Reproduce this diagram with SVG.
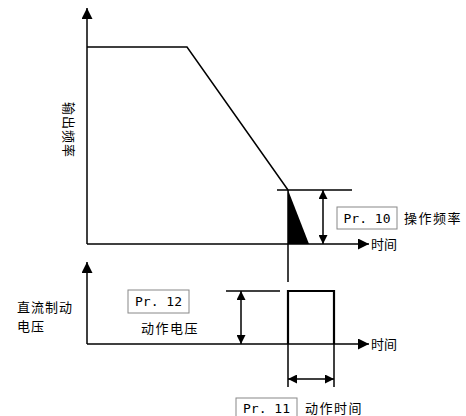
<svg xmlns="http://www.w3.org/2000/svg" width="466" height="416" viewBox="0 0 466 416">
<defs>
<style>
.ln{stroke:#000;stroke-width:1.5;fill:none}
.thk{stroke:#000;stroke-width:2.2;fill:none}
.box{fill:#fff;stroke:#888;stroke-width:1}
.t{font-family:"Noto Sans CJK SC","Noto Sans CJK JP",sans-serif;font-size:13px;fill:#000}
.m{font-family:"DejaVu Sans Mono","Liberation Mono",monospace;font-size:13px;fill:#000}
</style>
<marker id="ax" markerUnits="userSpaceOnUse" markerWidth="11" markerHeight="11" refX="10" refY="5" orient="auto" viewBox="0 0 10 10">
<path d="M0,0 L10,5 L0,10 z" fill="#000"/>
</marker>
<marker id="dm" markerUnits="userSpaceOnUse" markerWidth="9" markerHeight="9" refX="10" refY="5" orient="auto-start-reverse" viewBox="0 0 10 10">
<path d="M0,0 L10,5 L0,10 z" fill="#000"/>
</marker>
</defs>
<rect width="466" height="416" fill="#fff"/>

<g id="top-chart">
<line class="ln" x1="87" y1="244" x2="87" y2="8" marker-end="url(#ax)"/>
<line class="ln" x1="87" y1="244" x2="369" y2="244" marker-end="url(#ax)"/>
<polyline class="ln" points="87,47 187,47 288,190"/>
<line class="ln" x1="288" y1="190" x2="288" y2="282"/>
<polygon points="288,190 288,244 309,244" fill="#000"/>
<text class="t" transform="translate(64,130) rotate(90)" text-anchor="middle" letter-spacing="1">输出频率</text>
<text class="t" x="371" y="249">时间</text>
</g>

<g id="freq-dim">
<line class="ln" x1="277" y1="190" x2="352" y2="190"/>
<line class="ln" x1="323" y1="190" x2="323" y2="244" marker-start="url(#dm)" marker-end="url(#dm)"/>
<rect class="box" x="337" y="207" width="60" height="22"/>
<text class="m" x="367" y="223" text-anchor="middle">Pr. 10</text>
<text class="t" x="404" y="223" letter-spacing="1.5">操作频率</text>
</g>

<g id="bottom-chart">
<line class="ln" x1="87" y1="344" x2="87" y2="262" marker-end="url(#ax)"/>
<line class="ln" x1="87" y1="344" x2="369" y2="344" marker-end="url(#ax)"/>
<polyline class="thk" points="288,344 288,291 334,291 334,344"/>
<text class="t" x="371" y="349">时间</text>
<text class="t" x="17" y="312" letter-spacing="1">直流制动</text>
<text class="t" x="17" y="331" letter-spacing="1">电压</text>
</g>

<g id="volt-dim">
<line class="ln" x1="226" y1="291" x2="280" y2="291"/>
<line class="ln" x1="241" y1="291" x2="241" y2="344" marker-start="url(#dm)" marker-end="url(#dm)"/>
<rect class="box" x="128" y="290" width="61" height="23"/>
<text class="m" x="158.5" y="306" text-anchor="middle">Pr. 12</text>
<text class="t" x="141" y="333" letter-spacing="1.5">动作电压</text>
</g>

<g id="time-dim">
<line class="ln" x1="288" y1="344" x2="288" y2="387"/>
<line class="ln" x1="334" y1="344" x2="334" y2="387"/>
<line class="ln" x1="288" y1="379" x2="334" y2="379" marker-start="url(#dm)" marker-end="url(#dm)"/>
<rect class="box" x="236" y="398" width="61" height="22"/>
<text class="m" x="266.5" y="413" text-anchor="middle">Pr. 11</text>
<text class="t" x="305" y="413" letter-spacing="1.5">动作时间</text>
</g>
</svg>
